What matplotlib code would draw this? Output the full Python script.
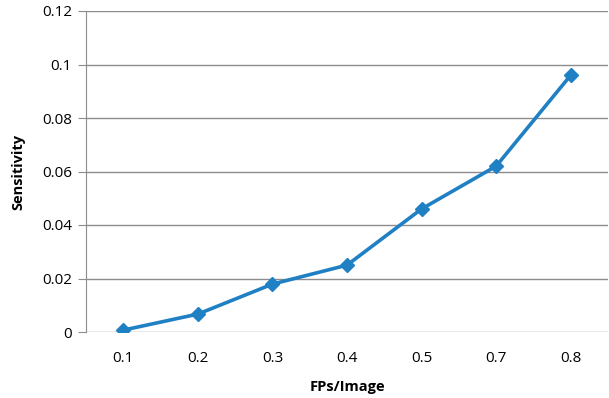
import matplotlib
matplotlib.use('Agg')
from matplotlib import pyplot as plt

categories = ['0.1', '0.2', '0.3', '0.4', '0.5', '0.7', '0.8']
sensitivity = [0.0007, 0.0067, 0.0179, 0.025, 0.046, 0.062, 0.096]
yticks = [0, 0.02, 0.04, 0.06, 0.08, 0.1, 0.12]
ytick_labels = ['0', '0.02', '0.04', '0.06', '0.08', '0.1', '0.12']

plt.rcParams['font.family'] = ['Open Sans', 'DejaVu Sans']

fig = plt.figure(figsize=(6.09, 3.98), dpi=100)
ax = fig.add_axes([86 / 609, 1 - 332 / 398, (608 - 86) / 609, (332 - 11) / 398])

x = list(range(len(categories)))
ax.plot(x, sensitivity, color='#1f80c4', lw=2.6, marker='D', ms=7.5,
        markerfacecolor='#1f80c4', markeredgecolor='#1f80c4', zorder=3)

ax.set_xlim(-0.5, len(categories) - 0.5)
ax.set_ylim(0, 0.12)
ax.set_yticks(yticks)
ax.set_yticklabels(ytick_labels)
ax.set_xticks(x)
ax.set_xticklabels(categories)

ax.grid(axis='y', color='#8c8c8c', lw=1)
ax.set_axisbelow(True)
for s in ['top', 'right', 'bottom']:
    ax.spines[s].set_visible(False)
ax.spines['left'].set_color('#8c8c8c')
ax.tick_params(axis='y', length=6, color='#8c8c8c', labelsize=11, pad=4)
ax.tick_params(axis='x', length=0, labelsize=11, pad=14)

ax.set_xlabel('FPs/Image', fontsize=10.5, fontweight='bold', labelpad=10)
ax.set_ylabel('Sensitivity', fontsize=10.5, fontweight='bold', labelpad=12)

fig.savefig('out.png', dpi=100)
